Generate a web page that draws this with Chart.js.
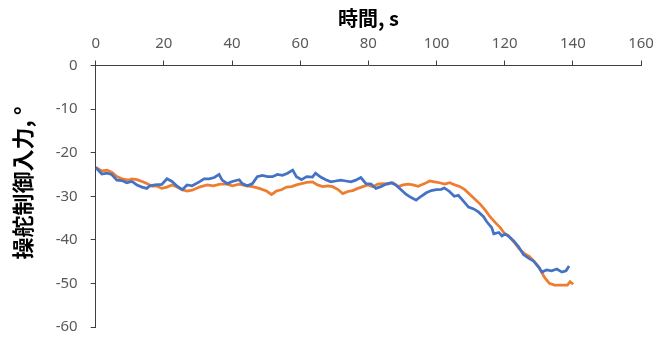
<!DOCTYPE html>
<html>
<head>
<meta charset="utf-8">
<script src="https://cdn.jsdelivr.net/npm/chart.js@4.4.1/dist/chart.umd.min.js"></script>
<style>
  html, body { margin: 0; padding: 0; background: #ffffff; }
  #wrap { width: 670px; height: 349px; }
</style>
</head>
<body>
<div id="wrap"><canvas id="c" width="670" height="349"></canvas></div>
<script>
// Steering control input over time, two runs
const xTicks = [0, 20, 40, 60, 80, 100, 120, 140, 160];
const yTicks = [0, -10, -20, -30, -40, -50, -60];
const xTitle = '時間, s';
const yTitle = '操舵制御入力, °';

const blueTime = [0, 1.8, 3.3, 4.7, 6.2, 7.7, 9.1, 10.6, 12.1, 13.6, 15.0, 15.9, 17.4, 19.4, 20.9, 22.4, 23.9, 25.4, 26.8, 28.3,
  30.4, 31.8, 33.3, 34.8, 36.2, 37.1, 38.6, 40.1, 42.1, 43.0, 44.5, 46.0, 47.4, 48.9, 50.4, 51.9, 53.3, 54.8, 56.3, 57.8,
  58.9, 60.4, 61.9, 63.6, 64.5, 66.0, 67.5, 69.0, 70.4, 71.9, 73.4, 74.9, 76.3, 77.8, 79.3, 80.8, 82.2, 83.7, 85.2, 86.7,
  88.1, 89.6, 91.1, 92.6, 94.0, 95.5, 97.0, 98.5, 99.9, 101.4, 102.3, 103.8, 105.2, 106.4, 107.9, 109.4, 110.9, 112.3, 113.8, 114.7,
  116.2, 116.8, 118.3, 119.2, 120.1, 121.0, 122.6, 124.1, 125.5, 127.0, 128.5, 130.0, 130.9, 132.3, 133.8, 135.3, 136.8, 138.0, 138.9];
const blueAngle = [-23.4, -24.9, -24.7, -25.0, -26.3, -26.4, -26.9, -26.6, -27.4, -27.9, -28.2, -27.6, -27.4, -27.3, -26.0, -26.6, -27.7, -28.5, -27.4, -27.6,
  -26.7, -26.0, -26.0, -25.7, -25.0, -26.3, -27.1, -26.6, -26.2, -27.1, -27.6, -27.1, -25.5, -25.2, -25.5, -25.5, -25.0, -25.2, -24.7, -24.0,
  -25.5, -26.2, -25.5, -25.6, -24.7, -25.6, -26.2, -26.7, -26.5, -26.3, -26.5, -26.7, -26.3, -25.7, -27.1, -27.2, -28.2, -27.8, -27.2, -26.9,
  -27.4, -28.5, -29.6, -30.3, -30.9, -30.0, -29.2, -28.7, -28.5, -28.4, -28.1, -28.9, -30.0, -29.8, -31.1, -32.5, -32.9, -33.6, -34.7, -35.8,
  -37.2, -38.6, -38.3, -39.1, -38.7, -39.1, -40.2, -41.6, -43.4, -44.2, -44.9, -46.3, -47.4, -46.9, -47.1, -46.7, -47.4, -47.1, -46.0];

const orangeTime = [0, 1.8, 3.3, 4.7, 6.2, 7.7, 9.7, 10.6, 12.1, 13.6, 15.0, 16.5, 18.0, 19.4, 20.9, 22.4, 23.9, 25.4, 26.8, 28.3,
  30.4, 32.7, 34.5, 36.5, 38.3, 40.1, 42.1, 44.2, 46.0, 48.0, 50.1, 51.6, 53.0, 54.5, 56.0, 57.5, 58.9, 60.4, 61.9, 63.6,
  65.1, 66.6, 68.1, 69.5, 71.0, 72.5, 74.0, 75.4, 76.9, 78.4, 79.9, 81.3, 82.8, 84.3, 85.8, 87.2, 88.7, 90.2, 91.7, 93.1,
  94.6, 96.5, 98.0, 99.4, 100.9, 102.4, 103.9, 105.4, 106.9, 108.3, 109.8, 111.3, 112.8, 114.3, 115.7, 117.2, 118.7, 119.9, 121.2, 122.7,
  124.2, 125.7, 127.2, 128.6, 130.1, 131.6, 133.1, 134.6, 136.3, 138.4, 139.2, 140.1];
const orangeAngle = [-23.4, -24.2, -24.0, -24.5, -25.5, -26.0, -26.3, -26.0, -26.2, -26.6, -27.1, -27.7, -27.7, -28.2, -27.9, -27.4, -27.9, -28.5, -28.8, -28.6,
  -27.9, -27.4, -27.6, -27.2, -27.2, -27.6, -27.2, -27.6, -27.8, -28.2, -28.8, -29.6, -28.8, -28.5, -27.9, -27.8, -27.4, -27.1, -26.8, -26.7,
  -27.4, -27.8, -27.6, -27.8, -28.4, -29.4, -28.9, -28.7, -28.2, -27.8, -27.4, -27.8, -27.2, -27.1, -27.2, -26.9, -27.8, -27.4, -27.2, -27.4,
  -27.7, -27.1, -26.5, -26.7, -26.9, -27.2, -26.9, -27.4, -27.8, -28.5, -29.6, -30.7, -31.8, -33.2, -34.7, -36.0, -37.2, -38.5, -39.1, -40.5,
  -42.0, -43.1, -43.8, -44.9, -46.3, -48.5, -50.0, -50.4, -50.4, -50.4, -49.6, -50.2];

const toPoints = (xs, ys) => xs.map((x, i) => ({ x: x, y: ys[i] }));

const axisColor = '#3f3f3f';
const tickColor = '#595959';
const tickFont = { family: '"Noto Sans", sans-serif', size: 15, lineHeight: 1.2 };
const titleFont = '"Noto Sans CJK JP", sans-serif';

const PAD = { left: 0, right: 29, top: 0, bottom: 7 };

// Vertical axis title, drawn in the left margin slightly above the plot centre
const yTitlePlugin = {
  id: 'yTitle',
  afterDraw(chart) {
    const ctx = chart.ctx;
    ctx.save();
    ctx.translate(23, 183);
    ctx.rotate(-Math.PI / 2);
    ctx.font = 'bold 22px ' + titleFont;
    ctx.fillStyle = '#000000';
    ctx.textAlign = 'center';
    ctx.textBaseline = 'middle';
    ctx.fillText(yTitle, 0, 0);
    ctx.restore();
  }
};

new Chart(document.getElementById('c'), {
  type: 'line',
  data: {
    datasets: [
      {
        data: toPoints(blueTime, blueAngle),
        borderColor: '#4472C4',
        borderWidth: 2.75,
        pointRadius: 0,
        tension: 0,
        fill: false
      },
      {
        data: toPoints(orangeTime, orangeAngle),
        borderColor: '#ED7D31',
        borderWidth: 2.75,
        pointRadius: 0,
        tension: 0,
        fill: false
      }
    ]
  },
  plugins: [yTitlePlugin],
  options: {
    responsive: false,
    animation: false,
    devicePixelRatio: 1,
    layout: { padding: PAD },
    plugins: {
      legend: { display: false },
      tooltip: { enabled: false }
    },
    scales: {
      x: {
        type: 'linear',
        position: 'top',
        min: 0,
        max: 160,
        afterBuildTicks: (s) => { s.ticks = xTicks.map(v => ({ value: v })); },
        afterFit: (s) => { s.height = 65.5 - PAD.top; },
        ticks: { color: tickColor, font: tickFont, padding: 8, maxRotation: 0, autoSkip: false },
        grid: { drawOnChartArea: false, drawTicks: true, tickLength: 5, color: axisColor, lineWidth: 1 },
        border: { display: true, color: axisColor, width: 1 },
        title: {
          display: true,
          text: xTitle,
          color: '#000000',
          font: { family: titleFont, size: 20, weight: 'bold', lineHeight: 1.2 },
          padding: { top: 6, bottom: 0 }
        }
      },
      y: {
        type: 'linear',
        min: -60,
        max: 0,
        afterBuildTicks: (s) => { s.ticks = yTicks.map(v => ({ value: v })); },
        afterFit: (s) => { s.width = 95.7 - PAD.left; },
        ticks: { color: tickColor, font: tickFont, padding: 13, autoSkip: false },
        grid: { drawOnChartArea: false, drawTicks: true, tickLength: 5, color: axisColor, lineWidth: 1 },
        border: { display: true, color: axisColor, width: 1 },
        title: { display: false }
      }
    }
  }
});
</script>
</body>
</html>
